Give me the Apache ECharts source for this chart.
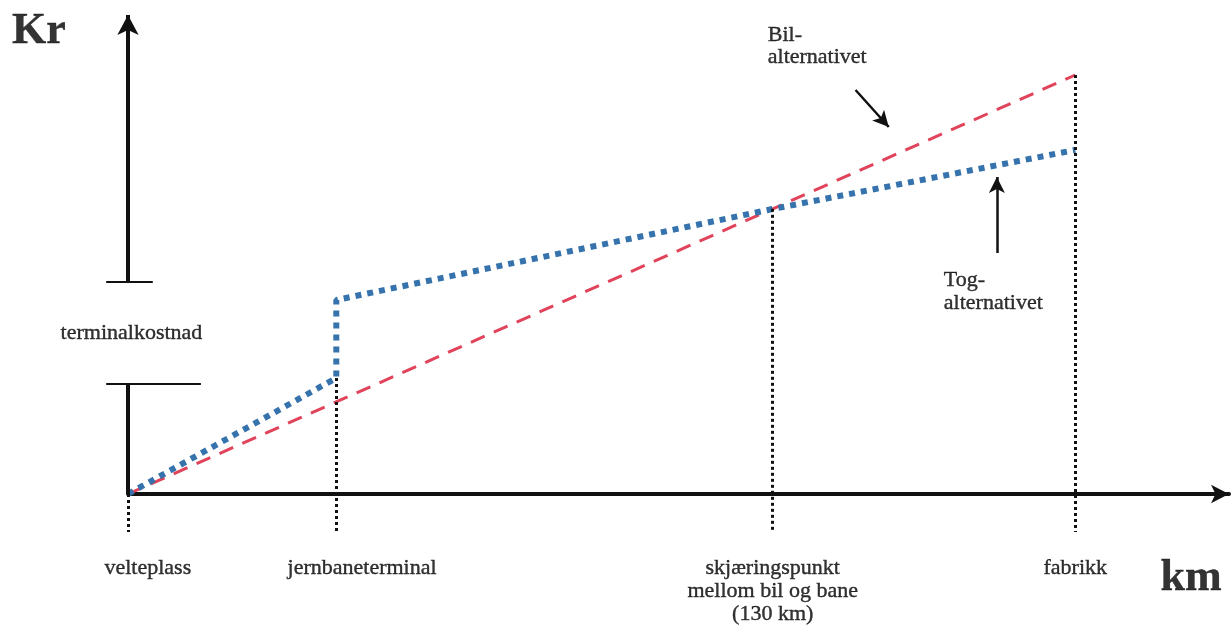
<!DOCTYPE html>
<html>
<head>
<meta charset="utf-8">
<script src="https://cdn.jsdelivr.net/npm/echarts@6/dist/echarts.min.js"></script>
<style>
  html, body { margin: 0; padding: 0; background: #fff; }
  #chart { width: 1231px; height: 629px; }
</style>
</head>
<body>
<div id="chart"></div>
<script>
// stations along the route (km) and their labels
var stations = ['velteplass', 'jernbaneterminal', 'skjæringspunkt\nmellom bil og bane\n(130 km)', 'fabrikk'];
var stationKm = [0, 42, 130, 191];
// cost curves (Kr, arbitrary units)
var bilKm = [0, 191];
var bilCost = [0, 419];
var togKm = [0, 42, 42, 130, 191];
var togCost = [0, 116, 194, 285, 344];
// terminal cost band on the Kr axis
var terminalLow = 110;
var terminalHigh = 212;

var serif = 'Liberation Serif';
var ink = '#111';

function costAt(km) {
  var b = bilCost[1] * km / bilKm[1];
  var t = togCost[togKm.indexOf(km)];
  return Math.max(b, t);
}

var dropLines = stationKm.map(function (k) {
  return [{ coord: [k, costAt(k)] }, { coord: [k, -38] }];
});

var stationLabels = stations.map(function (s, i) {
  var shift = [4, 5.2, 0, 0][i];
  return {
    value: [stationKm[i] + shift, -63],
    label: { formatter: s, align: 'center', verticalAlign: 'top' }
  };
});

// terminal cost ticks: [x0, x1, y]
var tickRows = [[-4.4, 5.0, terminalHigh], [-4.4, 14.7, terminalLow]];

var chart = echarts.init(document.getElementById('chart'));
chart.setOption({
  animation: false,
  grid: { left: 128, right: 2, top: 15, bottom: 0 },
  xAxis: {
    type: 'value', min: 0, max: 222,
    splitLine: { show: false },
    axisTick: { show: false },
    axisLabel: { show: false },
    axisLine: {
      onZero: true,
      symbol: ['none', 'arrow'], symbolSize: [14, 18],
      lineStyle: { color: ink, width: 4 }
    }
  },
  yAxis: {
    type: 'value', min: -135, max: 479,
    splitLine: { show: false },
    axisTick: { show: false },
    axisLabel: { show: false },
    axisLine: { show: false }
  },
  series: [
    {
      name: 'Bil-alternativet', type: 'line', symbol: 'none', z: 3,
      data: bilKm.map(function (k, i) { return [k, bilCost[i]]; }),
      lineStyle: { color: '#e0435a', width: 3, type: [15, 10] }
    },
    {
      name: 'Tog-alternativet', type: 'line', symbol: 'none', z: 4,
      data: togKm.map(function (k, i) { return [k, togCost[i]]; }),
      lineStyle: { color: '#3673ad', width: 6, type: [6, 6] }
    },
    {
      name: 'ticks', type: 'custom', silent: true,
      data: tickRows,
      renderItem: function (params, api) {
        var a = api.coord([api.value(0), api.value(2)]);
        var b = api.coord([api.value(1), api.value(2)]);
        return {
          type: 'line',
          shape: { x1: a[0], y1: a[1], x2: b[0], y2: b[1] },
          style: { stroke: ink, lineWidth: 2 }
        };
      }
    },
    {
      name: 'guides', type: 'line', data: [], clip: false,
      markLine: {
        silent: true, symbol: 'none', animation: false,
        label: { show: false },
        lineStyle: { color: ink, width: 3, type: [3, 3] },
        data: dropLines.concat([
          // Kr axis with gap for terminal cost
          [{ coord: [0, 0], lineStyle: { type: 'solid', width: 4 } }, { coord: [0, terminalLow] }],
          [{ coord: [0, terminalHigh], lineStyle: { type: 'solid', width: 4 } },
           { coord: [0, 479], symbol: 'arrow', symbolSize: [16, 20] }],
          // pointers
          [{ coord: [146.7, 404], lineStyle: { type: 'solid', width: 2.5 } },
           { coord: [153.4, 367], symbol: 'arrow', symbolSize: [12, 16] }],
          [{ coord: [175.2, 241], lineStyle: { type: 'solid', width: 2.5 } },
           { coord: [175.2, 317], symbol: 'arrow', symbolSize: [12, 16] }]
        ])
      }
    },
    {
      name: 'labels', type: 'scatter', symbolSize: 0, clip: false, silent: true, z: 5,
      label: {
        show: true, color: '#000', fontFamily: serif, fontSize: 22, lineHeight: 23,
        textBorderColor: '#000', textBorderWidth: 0.4
      },
      data: stationLabels.concat([
        { value: [0.7, 161], label: { formatter: 'terminalkostnad', align: 'center', verticalAlign: 'middle' } },
        { value: [129.0, 470], label: { formatter: 'Bil-\nalternativet', align: 'left', verticalAlign: 'top', lineHeight: 22 } },
        { value: [164.5, 225], label: { formatter: 'Tog-\nalternativet', align: 'left', verticalAlign: 'top' } },
        { value: [-23.4, 462], label: { formatter: 'Kr', align: 'left', verticalAlign: 'middle', fontSize: 44, fontWeight: 'bold' } },
        { value: [208.2, -85], label: { formatter: 'km', align: 'left', verticalAlign: 'middle', fontSize: 44, fontWeight: 'bold' } }
      ])
    }
  ]
});
</script>
</body>
</html>
